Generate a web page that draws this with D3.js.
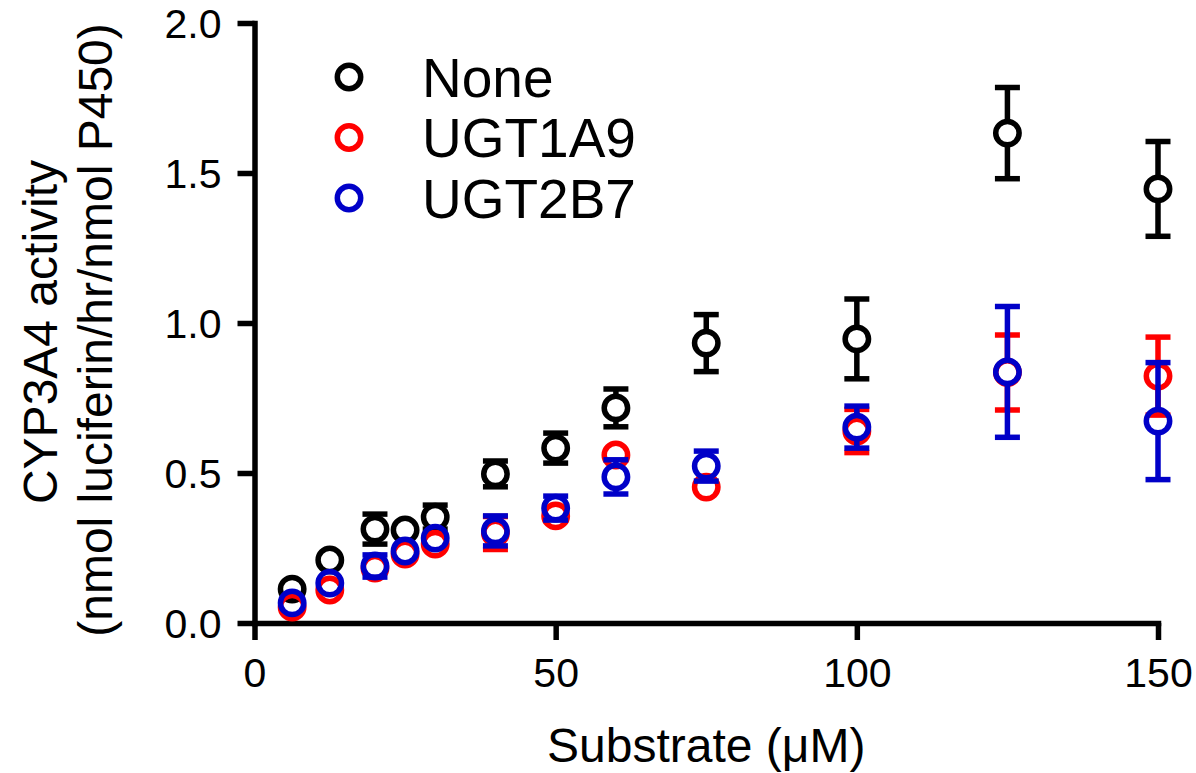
<!DOCTYPE html>
<html>
<head>
<meta charset="utf-8">
<script src="https://cdn.jsdelivr.net/npm/d3@7"></script>
<style>
    body { margin: 0; background: #fff; }
    text { font-family: "Liberation Sans", Arial, sans-serif; fill: #000; }
</style>
</head>
<body>
<svg id="chart"></svg>
<script>
// Substrate concentrations (uM)
const substrate = [6.25, 12.5, 20, 25, 30, 40, 50, 60, 75, 100, 125, 150];

// Mean activity and error (SD) per series
const noneMean = [0.113, 0.21, 0.313, 0.31, 0.353, 0.497, 0.583, 0.717, 0.933, 0.947, 1.633, 1.447];
const noneErr  = [0, 0, 0.05, 0, 0.04, 0.043, 0.05, 0.063, 0.095, 0.133, 0.152, 0.158];

const ugt1a9Mean = [0.053, 0.11, 0.183, 0.23, 0.263, 0.30, 0.357, 0.56, 0.453, 0.64, 0.835, 0.823];
const ugt1a9Err  = [0, 0, 0, 0, 0, 0.055, 0, 0, 0, 0.072, 0.125, 0.13];

const ugt2b7Mean = [0.067, 0.133, 0.19, 0.24, 0.283, 0.307, 0.383, 0.487, 0.523, 0.653, 0.837, 0.673];
const ugt2b7Err  = [0, 0, 0.037, 0, 0, 0.05, 0.04, 0.057, 0.05, 0.07, 0.218, 0.195];

const seriesNames = ["None", "UGT1A9", "UGT2B7"];
const seriesColors = ["#000000", "#ff0000", "#0000c8"];

// Tick values
const xTicks = [0, 50, 100, 150];
const yTicks = [0, 0.5, 1.0, 1.5, 2.0];

const series = [
    { name: seriesNames[0], color: seriesColors[0], mean: noneMean, err: noneErr },
    { name: seriesNames[1], color: seriesColors[1], mean: ugt1a9Mean, err: ugt1a9Err },
    { name: seriesNames[2], color: seriesColors[2], mean: ugt2b7Mean, err: ugt2b7Err }
];

const width = 1196;
const height = 773;
const margin = { top: 23, right: 38, bottom: 150, left: 254.5 };

const svg = d3.select("#chart")
    .attr("width", width)
    .attr("height", height);

svg.append("rect")
    .attr("width", width)
    .attr("height", height)
    .attr("fill", "#fff");

const xScale = d3.scaleLinear()
    .domain([0, 150])
    .range([margin.left, width - margin.right]);

const yScale = d3.scaleLinear()
    .domain([0, 2])
    .range([height - margin.bottom, margin.top]);

const lineW = 5.5;
const r = 11.7;
const capW = 25;

// Axes
const xAxis = svg.append("g")
    .attr("transform", `translate(0, ${yScale(0)})`)
    .call(d3.axisBottom(xScale).tickValues(xTicks).tickSize(17).tickSizeOuter(0).tickPadding(18)
        .tickFormat(d3.format("d")));

const yAxis = svg.append("g")
    .attr("transform", `translate(${xScale(0)}, 0)`)
    .call(d3.axisLeft(yScale).tickValues(yTicks).tickSize(17).tickSizeOuter(0).tickPadding(16)
        .tickFormat(d3.format(".1f")));

[xAxis, yAxis].forEach(g => {
    g.select(".domain").attr("stroke", "#000").attr("stroke-width", lineW).attr("stroke-linecap", "square");
    g.selectAll(".tick line").attr("stroke", "#000").attr("stroke-width", lineW).attr("stroke-linecap", "butt");
    g.selectAll(".tick text").attr("fill", "#000").style("font-size", "41px");
});
xAxis.selectAll(".tick text").attr("dy", "0.71em");
yAxis.selectAll(".tick text").attr("dy", "0.36em");

// Axis titles
svg.append("text")
    .attr("x", (xScale(0) + xScale(150)) / 2)
    .attr("y", 762)
    .attr("text-anchor", "middle")
    .style("font-size", "48px")
    .text("Substrate (\u03bcM)");

svg.append("text")
    .attr("transform", "translate(57, 332) rotate(-90)")
    .attr("text-anchor", "middle")
    .style("font-size", "48px")
    .text("CYP3A4 activity");

svg.append("text")
    .attr("transform", "translate(112, 330) rotate(-90)")
    .attr("text-anchor", "middle")
    .style("font-size", "48px")
    .text("(nmol luciferin/hr/nmol P450)");

// Data: error bars then open circles, series by series
series.forEach(s => {
    const pts = substrate.map((x, i) => ({ x, m: s.mean[i], e: s.err[i] }));
    const g = svg.append("g");

    const eb = g.selectAll(".eb")
        .data(pts.filter(d => d.e > 0))
        .enter()
        .append("g")
        .attr("stroke", s.color)
        .attr("stroke-width", lineW);

    // upper bar and cap
    eb.filter(d => yScale(d.m) - yScale(d.m + d.e) > r)
        .append("line")
        .attr("x1", d => xScale(d.x)).attr("x2", d => xScale(d.x))
        .attr("y1", d => yScale(d.m) - r)
        .attr("y2", d => yScale(d.m + d.e));
    eb.filter(d => yScale(d.m - d.e) - yScale(d.m) > r)
        .append("line")
        .attr("x1", d => xScale(d.x)).attr("x2", d => xScale(d.x))
        .attr("y1", d => yScale(d.m) + r)
        .attr("y2", d => yScale(d.m - d.e));
    eb.append("line")
        .attr("x1", d => xScale(d.x) - capW / 2).attr("x2", d => xScale(d.x) + capW / 2)
        .attr("y1", d => yScale(d.m + d.e)).attr("y2", d => yScale(d.m + d.e));
    eb.append("line")
        .attr("x1", d => xScale(d.x) - capW / 2).attr("x2", d => xScale(d.x) + capW / 2)
        .attr("y1", d => yScale(d.m - d.e)).attr("y2", d => yScale(d.m - d.e));

    g.selectAll(".pt")
        .data(pts)
        .enter()
        .append("circle")
        .attr("class", "pt")
        .attr("cx", d => xScale(d.x))
        .attr("cy", d => yScale(d.m))
        .attr("r", r)
        .attr("fill", "none")
        .attr("stroke", s.color)
        .attr("stroke-width", lineW);
});

// Legend
const legend = svg.append("g")
    .selectAll(".leg")
    .data(series)
    .enter()
    .append("g")
    .attr("transform", (d, i) => `translate(349, ${77 + i * 60.5})`);

legend.append("circle")
    .attr("r", r)
    .attr("fill", "none")
    .attr("stroke", d => d.color)
    .attr("stroke-width", lineW);

legend.append("text")
    .attr("x", 73)
    .attr("dy", "0.36em")
    .style("font-size", "55px")
    .text(d => d.name);
</script>
</body>
</html>
